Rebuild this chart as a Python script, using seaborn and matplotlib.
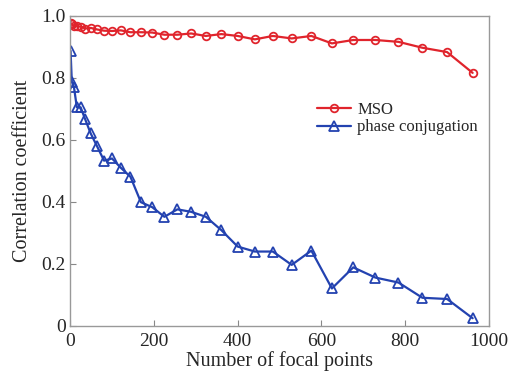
import numpy as np
import pandas as pd
import matplotlib
matplotlib.use("Agg")
import matplotlib.pyplot as plt
import seaborn as sns

focal_points = [1, 4, 9, 16, 25, 36, 49, 64, 81, 100, 121, 144, 169, 196, 225, 256,
                289, 324, 361, 400, 441, 484, 529, 576, 625, 676, 729, 784, 841, 900, 961]
mso = [0.977, 0.972, 0.968, 0.966, 0.965, 0.959, 0.961, 0.956, 0.952, 0.951, 0.953,
       0.947, 0.947, 0.946, 0.939, 0.939, 0.943, 0.935, 0.941, 0.935, 0.924, 0.935,
       0.927, 0.935, 0.911, 0.922, 0.922, 0.916, 0.897, 0.883, 0.816]
phase_conj = [0.887, 0.787, 0.771, 0.705, 0.705, 0.666, 0.621, 0.580, 0.533, 0.540,
              0.510, 0.481, 0.399, 0.383, 0.352, 0.376, 0.368, 0.352, 0.309, 0.256,
              0.240, 0.240, 0.197, 0.243, 0.121, 0.189, 0.156, 0.140, 0.091, 0.087, 0.025]
series_names = ["MSO", "phase conjugation"]
x_ticks = [0, 200, 400, 600, 800, 1000]
y_ticks = [0, 0.2, 0.4, 0.6, 0.8, 1.0]
y_tick_labels = ["0", "0.2", "0.4", "0.6", "0.8", "1.0"]

sns.set_style("white")
plt.rcParams["font.family"] = ["Liberation Serif", "DejaVu Serif"]

fig = plt.figure(figsize=(5.12, 3.76), dpi=100)
ax = fig.add_axes([0.137, 0.133, 0.818, 0.825])

red = "#e0242c"
blue = "#2342b0"
sns.lineplot(x=focal_points, y=mso, ax=ax, color=red, lw=1.6, marker="o",
             markersize=5.5, markerfacecolor="none", markeredgecolor=red,
             markeredgewidth=1.3, label=series_names[0])
sns.lineplot(x=focal_points, y=phase_conj, ax=ax, color=blue, lw=1.6, marker="^",
             markersize=6.5, markerfacecolor="none", markeredgecolor=blue,
             markeredgewidth=1.3, label=series_names[1])

ax.set_xlim(0, 1000)
ax.set_ylim(0, 1.0)
ax.set_xticks(x_ticks)
ax.set_xticklabels([str(t) for t in x_ticks], fontsize=14)
ax.set_yticks(y_ticks)
ax.set_yticklabels(y_tick_labels, fontsize=14)
ax.tick_params(direction="in", length=4, width=0.8, color="#888888", pad=3,
               top=False, right=False, bottom=True, left=True)
ax.tick_params(axis="x", pad=5)
for s in ax.spines.values():
    s.set_color("#999999")
    s.set_linewidth(1.0)
ax.set_xlabel("Number of focal points", fontsize=14.5, labelpad=1)
ax.set_ylabel("Correlation coefficient", fontsize=14.5, labelpad=7)

leg = ax.legend(loc="upper left", bbox_to_anchor=(0.57, 0.75), frameon=False,
                fontsize=12, handlelength=2.0, handletextpad=0.4,
                labelspacing=0.1, borderpad=0)

fig.savefig("out.png", dpi=100)
